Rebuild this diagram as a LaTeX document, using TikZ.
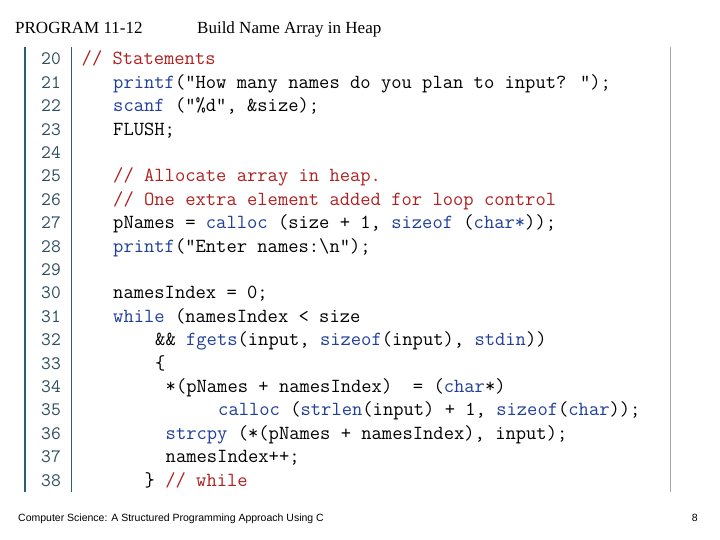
\documentclass[tikz,border=0pt]{standalone}
\usepackage{fontspec}
\setmainfont{Liberation Serif}
\setsansfont{Liberation Sans}
\definecolor{kwc}{HTML}{1F3F9A}
\definecolor{cmc}{HTML}{B02020}
\definecolor{numc}{HTML}{2F4F5F}
\definecolor{barc}{HTML}{2E5E6E}
\newcommand{\kw}[1]{\textcolor{kwc}{#1}}
\newcommand{\cm}[1]{\textcolor{cmc}{#1}}
\begin{document}
\begin{tikzpicture}[x=1pt,y=-1pt,
  code/.style={anchor=base west,inner sep=0pt,font=\fontsize{20}{22}\ttfamily},
  lnum/.style={anchor=base east,inner sep=0pt,font=\fontsize{19}{22}\ttfamily,text=numc}]
\useasboundingbox (0,0) rectangle (720,540);
\fill[white] (0,0) rectangle (720,540);
\node[anchor=base west,inner sep=0pt,font=\fontsize{17}{20}\selectfont] (t1) at (15,34) {PROGRAM 11-12};
\node[anchor=base west,inner sep=0pt,font=\fontsize{17}{20}\selectfont] (t2) at (197,34) {Build Name Array in Heap};
\draw[barc,line width=2.5pt] (25,47) -- (25,492);
\draw[barc,line width=1pt] (71,47) -- (71,492);
\draw[gray!70,line width=0.8pt] (670,47) -- (670,492);
\foreach \n [count=\i from 0] in {20,...,38}{
  \node[lnum] (n\n) at (61,{65+\i*23.39}) {\n};
}
\def\cx#1{81.5+#1*10.5}
\def\ly#1{65+(#1-20)*23.39}
\node[code] (c20) at ({\cx0},{\ly{20}}) {\cm{// Statements}};
\node[code] (c21) at ({\cx3},{\ly{21}}) {\kw{printf}("How many names do you plan to input? ");};
\node[code] (c22) at ({\cx3},{\ly{22}}) {\kw{scanf} ("\%d", \&size);};
\node[code] (c23) at ({\cx3},{\ly{23}}) {FLUSH;};
\node[code] (c25) at ({\cx3},{\ly{25}}) {\cm{// Allocate array in heap.}};
\node[code] (c26) at ({\cx3},{\ly{26}}) {\cm{// One extra element added for loop control}};
\node[code] (c27) at ({\cx3},{\ly{27}}) {pNames = \kw{calloc} (size + 1, \kw{sizeof} (\kw{char*}));};
\node[code] (c28) at ({\cx3},{\ly{28}}) {\kw{printf}("Enter names:\textbackslash n");};
\node[code] (c30) at ({\cx3},{\ly{30}}) {namesIndex = 0;};
\node[code] (c31) at ({\cx3},{\ly{31}}) {\kw{while} (namesIndex < size};
\node[code] (c32) at ({\cx7},{\ly{32}}) {\&\& \kw{fgets}(input, \kw{sizeof}(input), \kw{stdin}))};
\node[code] (c33) at ({\cx7},{\ly{33}}) {\{};
\node[code] (c34) at ({\cx8},{\ly{34}}) {*(pNames + namesIndex)\ \ = (\kw{char}*)};
\node[code] (c35) at ({\cx{13}},{\ly{35}}) {\kw{calloc} (\kw{strlen}(input) + 1, \kw{sizeof}(\kw{char}));};
\node[code] (c36) at ({\cx8},{\ly{36}}) {\kw{strcpy} (*(pNames + namesIndex), input);};
\node[code] (c37) at ({\cx8},{\ly{37}}) {namesIndex++;};
\node[code] (c38) at ({\cx6},{\ly{38}}) {\} \cm{// while}};
\node[anchor=base west,inner sep=0pt,font=\sffamily\fontsize{10.5}{12}\selectfont] (f1) at (18,521) {Computer Science: A Structured Programming Approach Using C};
\node[anchor=base east,inner sep=0pt,font=\sffamily\fontsize{10.5}{12}\selectfont] (f2) at (698,521) {8};
\end{tikzpicture}
\end{document}
